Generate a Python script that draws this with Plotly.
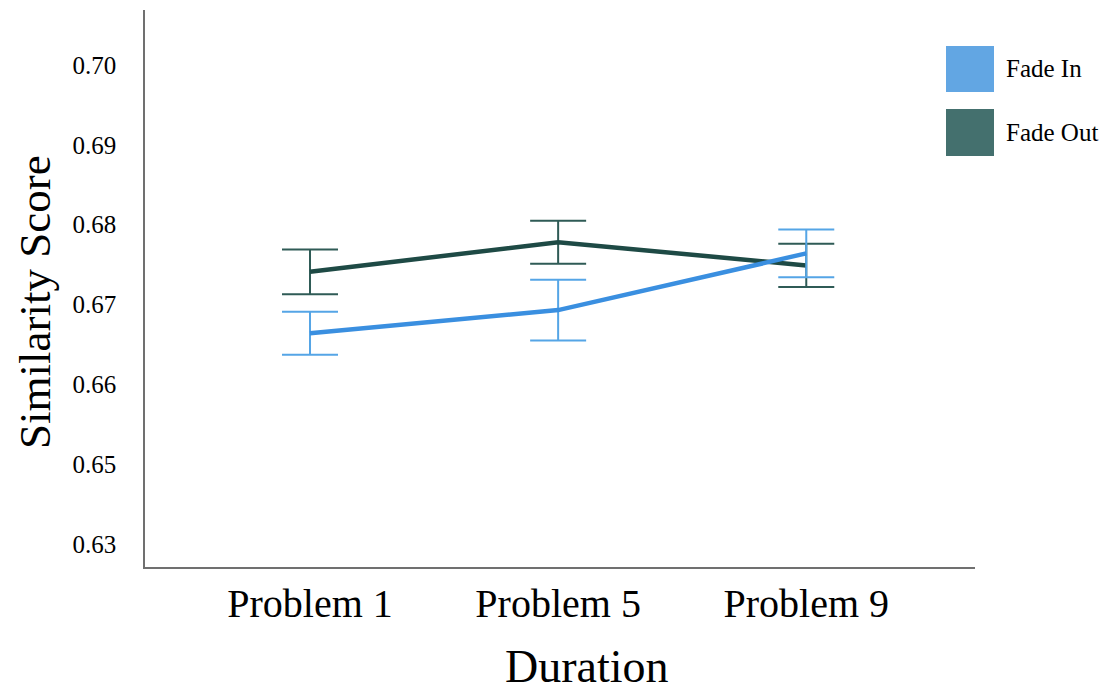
import plotly.graph_objects as go

categories = ["Problem 1", "Problem 5", "Problem 9"]
fade_in = [0.6664, 0.6693, 0.6764]
fade_in_err = [0.0027, 0.0038, 0.0030]
fade_out = [0.6741, 0.6778, 0.6749]
fade_out_err = [0.0028, 0.0027, 0.0027]
y_tickvals = [0.70, 0.69, 0.68, 0.67, 0.66, 0.65, 0.64]
y_ticktext = ["0.70", "0.69", "0.68", "0.67", "0.66", "0.65", "0.63"]
series_names = ["Fade In", "Fade Out"]

FONT = "Liberation Serif, Times New Roman, serif"
c_in_line, c_in_err, c_in_leg = "#3a8fe0", "#55a5e6", "#62a6e3"
c_out_line, c_out_err, c_out_leg = "#1e4a45", "#2f5b56", "#44706e"

# the page body adds an 8px margin; size the figure so it fits the window
OFF = 8
W, H = 1111 - 2 * OFF, 694 - 2 * OFF
# target screen positions (window pixels), converted to figure pixels
ml, mt = 145 - OFF, 10 - OFF
mr = W - (975 - OFF)
mb = H - (567 - OFF)
pw, ph = W - ml - mr, H - mt - mb

def px(x):
    return (x - OFF - ml) / pw

def py(y):
    return (H - mb - (y - OFF)) / ph

fig = go.Figure()
fig.add_trace(go.Scatter(
    x=categories, y=fade_out, mode="lines", name=series_names[1],
    line=dict(color=c_out_line, width=4.5),
    error_y=dict(type="data", array=fade_out_err, color=c_out_err, thickness=2, width=28),
    showlegend=False))
fig.add_trace(go.Scatter(
    x=categories, y=fade_in, mode="lines", name=series_names[0],
    line=dict(color=c_in_line, width=4.5),
    error_y=dict(type="data", array=fade_in_err, color=c_in_err, thickness=2, width=28),
    showlegend=False))

# custom legend (large swatches)
for name, col, top, bot in [(series_names[0], c_in_leg, 46, 92), (series_names[1], c_out_leg, 109, 156)]:
    fig.add_shape(type="rect", xref="paper", yref="paper",
                  x0=px(946), x1=px(994), y0=py(bot), y1=py(top),
                  fillcolor=col, line=dict(width=0))
    fig.add_annotation(xref="paper", yref="paper", x=px(1004), y=py((top + bot) / 2),
                       text=name, showarrow=False, xanchor="left", yanchor="middle",
                       font=dict(family=FONT, size=25, color="black"))

# axis titles
fig.add_annotation(xref="paper", yref="paper", x=px(587), y=py(666), text="Duration",
                   showarrow=False, xanchor="center", yanchor="middle",
                   font=dict(family=FONT, size=46, color="black"))
fig.add_annotation(xref="paper", yref="paper", x=px(35), y=py(302), text="Similarity Score",
                   showarrow=False, xanchor="center", yanchor="middle", textangle=-90,
                   font=dict(family=FONT, size=45, color="black"))

fig.update_layout(
    width=W, height=H,
    margin=dict(l=ml, r=mr, t=mt, b=mb),
    paper_bgcolor="white", plot_bgcolor="white",
    showlegend=False,
    font=dict(family=FONT, color="black"),
)
fig.update_xaxes(
    type="category", range=[-0.665, 2.68],
    showline=True, linecolor="#707070", linewidth=1.5,
    showgrid=False, zeroline=False, ticks="",
    tickfont=dict(family=FONT, size=40, color="black"),
    ticklabelstandoff=0,
)
fig.update_yaxes(
    range=[0.63712, 0.70689],
    tickvals=y_tickvals, ticktext=y_ticktext,
    showline=True, linecolor="#707070", linewidth=1.5,
    showgrid=False, zeroline=False, ticks="",
    tickfont=dict(family=FONT, size=25, color="black"),
    ticklabelstandoff=22,
)

fig.write_html("out.html")
